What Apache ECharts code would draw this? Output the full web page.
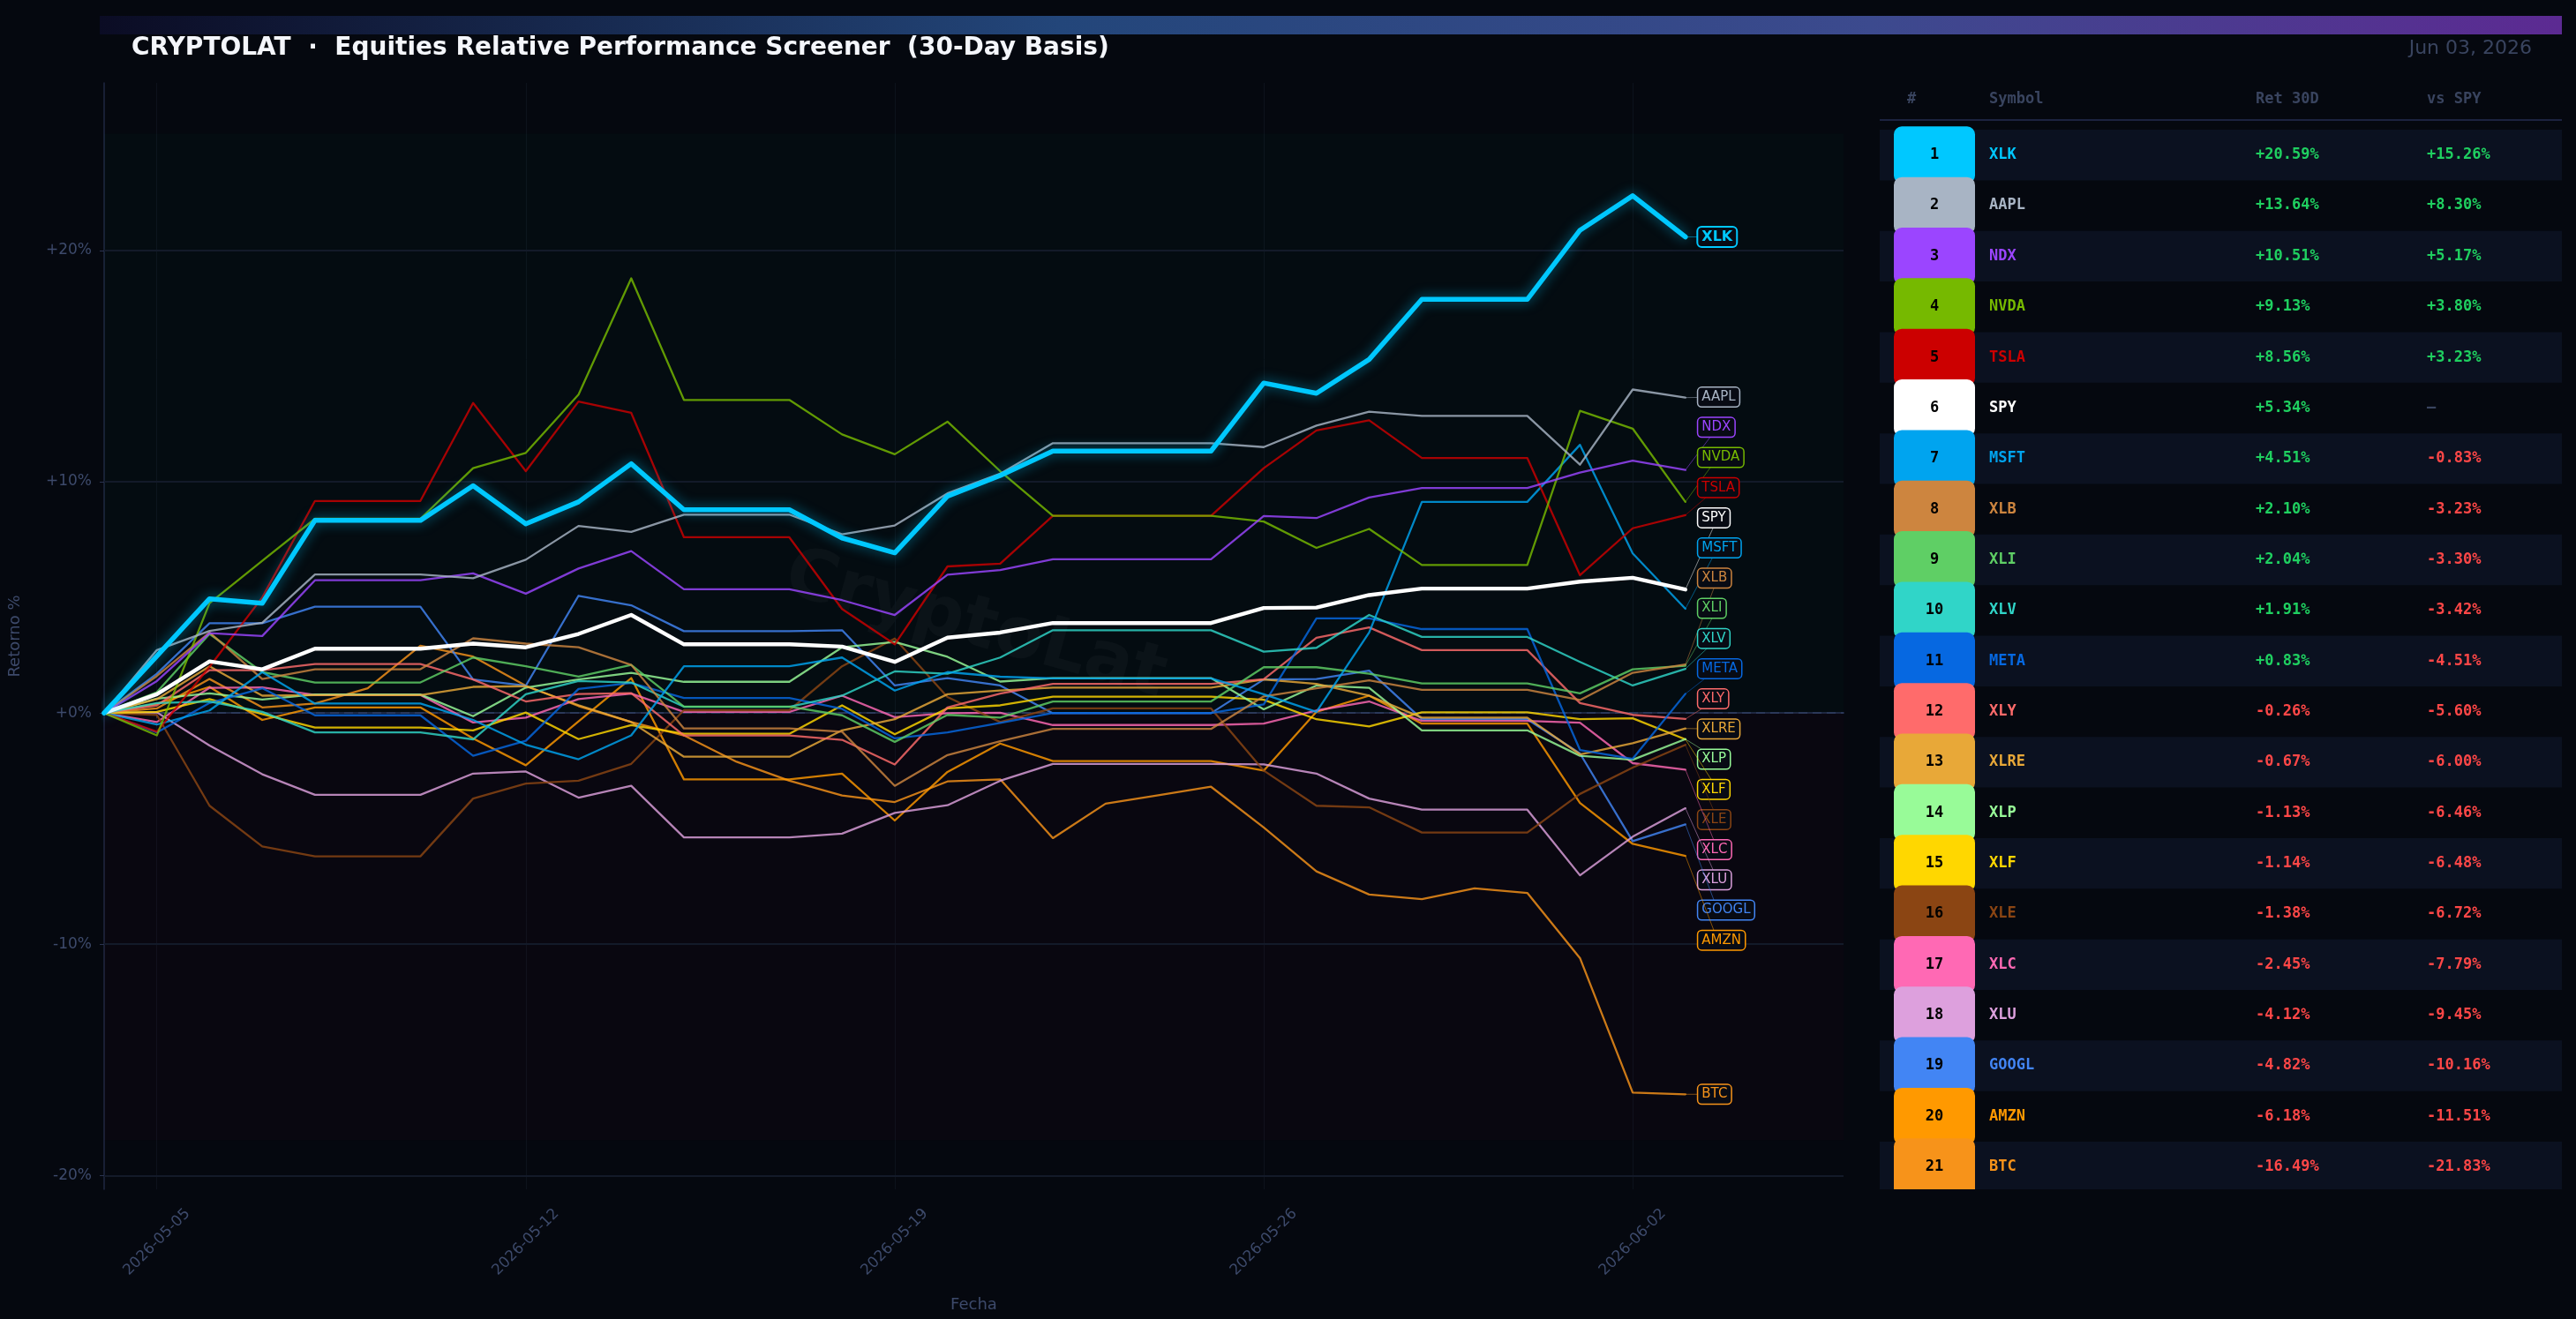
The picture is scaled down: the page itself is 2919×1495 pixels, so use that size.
<!DOCTYPE html>
<html><head><meta charset="utf-8">
<script src="https://cdn.jsdelivr.net/npm/echarts@6/dist/echarts.min.js"></script>
<style>html,body{margin:0;padding:0;background:#05080f;}#c{width:2919px;height:1495px;}</style>
</head><body><div id="c"></div>
<script>
// ---------- DATA ----------
const axisDates = ['2026-05-04','2026-05-05','2026-05-06','2026-05-07','2026-05-08','2026-05-09','2026-05-10','2026-05-11','2026-05-12','2026-05-13','2026-05-14','2026-05-15','2026-05-16','2026-05-17','2026-05-18','2026-05-19','2026-05-20','2026-05-21','2026-05-22','2026-05-23','2026-05-24','2026-05-25','2026-05-26','2026-05-27','2026-05-28','2026-05-29','2026-05-30','2026-05-31','2026-06-01','2026-06-02','2026-06-03','2026-06-04','2026-06-05','2026-06-06'];
const tickDates = ['2026-05-05','2026-05-12','2026-05-19','2026-05-26','2026-06-02'];
const yTicks = [-20, -10, 0, 10, 20];

const symbols = ['XLK','AAPL','NDX','NVDA','TSLA','SPY','MSFT','XLB','XLI','XLV','META','XLY','XLRE','XLP','XLF','XLE','XLC','XLU','GOOGL','AMZN','BTC'];
const colors  = ['#00c8ff','#a8b4c4','#9b45ff','#76b900','#cc0000','#ffffff','#00a4ef','#cd853f','#5fcf65','#30d5c8','#0668e1','#ff6b6b','#e8a838','#98fb98','#ffd700','#8b4513','#ff69b4','#dda0dd','#4285f4','#ff9900','#f7931a'];
const ret30   = [20.59, 13.64, 10.51, 9.13, 8.56, 5.34, 4.51, 2.10, 2.04, 1.91, 0.83, -0.26, -0.67, -1.13, -1.14, -1.38, -2.45, -4.12, -4.82, -6.18, -16.49];
const vsSpy   = [15.26, 8.30, 5.17, 3.80, 3.23, null, -0.83, -3.23, -3.30, -3.42, -4.51, -5.60, -6.00, -6.46, -6.48, -6.72, -7.79, -9.45, -10.16, -11.51, -21.83];

const XLK  = [0, 2.46, 4.94, 4.75, 8.33, 8.33, 8.33, 9.83, 8.18, 9.13, 10.78, 8.79, 8.79, 8.79, 7.57, 6.93, 9.38, 10.27, 11.33, 11.33, 11.33, 11.33, 14.27, 13.83, 15.29, 17.89, 17.89, 17.89, 20.88, 22.37, 20.59];
const AAPL = [0, 2.72, 3.55, 3.9, 5.99, 5.99, 5.99, 5.83, 6.63, 8.09, 7.83, 8.58, 8.58, 8.58, 7.73, 8.11, 9.5, 10.35, 11.67, 11.67, 11.67, 11.67, 11.5, 12.43, 13.03, 12.85, 12.85, 12.85, 10.74, 13.99, 13.64];
const NDX  = [0, 1.38, 3.45, 3.33, 5.74, 5.74, 5.74, 6.04, 5.16, 6.25, 7.0, 5.35, 5.35, 5.35, 4.88, 4.24, 5.98, 6.18, 6.65, 6.65, 6.65, 6.65, 8.52, 8.43, 9.32, 9.73, 9.73, 9.73, 10.4, 10.91, 10.51];
const NVDA = [0, -0.97, 4.75, 6.58, 8.4, 8.4, 8.4, 10.59, 11.25, 13.77, 18.8, 13.54, 13.54, 13.54, 12.05, 11.19, 12.6, 10.46, 8.53, 8.53, 8.53, 8.53, 8.28, 7.14, 7.96, 6.4, 6.4, 6.4, 13.07, 12.3, 9.13];
const TSLA = [0, -0.81, 2.0, 5.0, 9.17, 9.17, 9.17, 13.41, 10.46, 13.47, 12.98, 7.6, 7.6, 7.6, 4.5, 2.97, 6.34, 6.46, 8.53, 8.53, 8.53, 8.53, 10.59, 12.22, 12.66, 11.03, 11.03, 11.03, 5.96, 7.99, 8.56];
const SPY  = [0, 0.81, 2.23, 1.89, 2.78, 2.78, 2.78, 3.0, 2.84, 3.42, 4.24, 2.97, 2.97, 2.97, 2.87, 2.21, 3.26, 3.48, 3.89, 3.89, 3.89, 3.89, 4.54, 4.56, 5.1, 5.38, 5.38, 5.38, 5.68, 5.85, 5.34];
const MSFT = [0, -0.5, 0.11, 1.77, 0.41, 0.41, 0.41, -0.3, -1.37, -2.0, -0.97, 2.02, 2.02, 2.02, 2.4, 0.97, 1.77, 1.57, 1.5, 1.5, 1.5, 1.5, 0.81, 0.05, 3.48, 9.13, 9.13, 9.13, 11.6, 6.9, 4.51];
const XLB  = [0, 1.6, 3.48, 1.47, 1.89, 1.89, 1.89, 3.23, 3.0, 2.84, 2.08, -0.67, -0.67, -0.67, -0.81, -3.15, -1.82, -1.22, -0.69, -0.69, -0.69, -0.69, 0.72, 1.07, 1.41, 1.0, 1.0, 1.0, 0.56, 1.74, 2.10];
const XLI  = [0, 0.9, 3.42, 1.77, 1.32, 1.32, 1.32, 2.4, 2.02, 1.57, 2.08, 0.28, 0.28, 0.28, -0.1, -1.25, -0.08, -0.2, 0.5, 0.5, 0.5, 0.5, 1.98, 1.98, 1.7, 1.28, 1.28, 1.28, 0.85, 1.89, 2.04];
const XLV  = [0, 0.43, 0.5, 0.05, -0.84, -0.84, -0.84, -1.14, 0.81, 1.38, 1.32, 0.27, 0.27, 0.27, 0.75, 1.8, 1.7, 2.4, 3.58, 3.58, 3.58, 3.58, 2.65, 2.82, 4.24, 3.29, 3.29, 3.29, 2.21, 1.19, 1.91];
const META = [0, -0.84, 0.43, 1.07, -0.1, -0.1, -0.1, -1.85, -1.2, 1.04, 1.3, 0.65, 0.65, 0.65, 0.18, -1.1, -0.84, -0.43, 0.0, 0.0, 0.0, 0.0, 0.37, 4.09, 4.09, 3.63, 3.63, 3.63, -1.6, -1.98, 0.83];
const XLY  = [0, 0.33, 1.85, 1.85, 2.12, 2.12, 2.12, 1.45, 0.5, 0.82, 0.86, -0.97, -0.97, -0.97, -1.16, -2.23, 0.24, 0.84, 1.26, 1.26, 1.26, 1.26, 1.46, 3.25, 3.7, 2.72, 2.72, 2.72, 0.43, -0.08, -0.26];
const XLRE = [0, 0.6, 2.02, 0.75, 0.77, 0.77, 0.77, 1.13, 1.16, 0.34, -0.39, -1.89, -1.89, -1.89, -0.75, -0.27, 0.81, 0.97, 1.1, 1.1, 1.1, 1.1, 1.45, 1.26, 0.75, -0.2, -0.2, -0.2, -1.79, -1.31, -0.67];
const XLP  = [0, 0.62, 0.85, 0.58, 0.8, 0.8, 0.8, -0.14, 1.1, 1.45, 1.74, 1.35, 1.35, 1.35, 2.84, 3.07, 2.43, 1.36, 1.51, 1.51, 1.51, 1.51, 0.16, 1.19, 1.09, -0.75, -0.75, -0.75, -1.85, -2.02, -1.13];
const XLF  = [0, 0.05, 0.6, -0.05, -0.63, -0.63, -0.63, -0.75, 0.02, -1.13, -0.52, -0.9, -0.9, -0.9, 0.33, -0.92, 0.2, 0.33, 0.71, 0.71, 0.71, 0.71, 0.57, -0.27, -0.58, 0.03, 0.03, 0.03, -0.27, -0.23, -1.14];
const XLE  = [0, -0.08, -4.01, -5.77, -6.2, -6.2, -6.2, -3.7, -3.05, -2.93, -2.2, 0.12, 0.12, 0.12, 2.02, 3.22, 0.69, -0.39, 0.2, 0.2, 0.2, 0.2, -2.49, -4.01, -4.08, -5.17, -5.17, -5.17, -3.5, -2.36, -1.38];
const XLC  = [0, -0.39, 1.09, 1.11, 0.78, 0.78, 0.78, -0.41, -0.2, 0.6, 0.84, 0.05, 0.05, 0.05, 0.75, -0.18, -0.01, 0.01, -0.52, -0.52, -0.52, -0.52, -0.46, 0.11, 0.5, -0.34, -0.34, -0.34, -0.42, -2.17, -2.45];
const XLU  = [0, 0.03, -1.41, -2.65, -3.54, -3.54, -3.54, -2.62, -2.53, -3.66, -3.15, -5.38, -5.38, -5.38, -5.22, -4.32, -3.99, -2.93, -2.2, -2.2, -2.2, -2.2, -2.22, -2.62, -3.7, -4.18, -4.18, -4.18, -7.02, -5.35, -4.12];
const GOOGL= [0, 1.7, 3.88, 3.88, 4.6, 4.6, 4.6, 1.45, 1.18, 5.07, 4.66, 3.54, 3.54, 3.54, 3.58, 1.19, 1.51, 1.19, -0.01, -0.01, -0.01, -0.01, 1.45, 1.47, 1.83, -0.27, -0.27, -0.27, -1.75, -5.54, -4.82];
const AMZN = [0, 0.4, 1.13, -0.3, 0.24, 0.24, 0.24, -1.1, -2.26, -0.36, 1.51, -2.87, -2.87, -2.87, -2.62, -4.65, -2.55, -1.32, -2.08, -2.08, -2.08, -2.08, -2.49, 0.05, 0.75, -0.46, -0.46, -0.46, -3.89, -5.66, -6.18];
const BTC  = [0, 0.2, 1.47, 0.24, 0.41, 1.07, 2.91, 2.44, 1.18, 0.3, -0.39, -0.97, -2.11, -2.93, -3.57, -3.85, -2.96, -2.87, -5.41, -3.92, -3.56, -3.19, -4.95, -6.85, -7.85, -8.05, -7.58, -7.78, -10.6, -16.42, -16.49];

const seriesValues = {XLK, AAPL, NDX, NVDA, TSLA, SPY, MSFT, XLB, XLI, XLV, META, XLY, XLRE, XLP, XLF, XLE, XLC, XLU, GOOGL, AMZN, BTC};

// ---------- STYLE ----------
const AXIS_TXT = '#3d4a6b';
const UI_FONT = '"DejaVu Sans", Verdana, sans-serif';
const MONO = '"DejaVu Sans Mono", monospace';
const labelGap = 1.305;   // minimum spacing (in %) between end labels

// spread end labels: merge overlapping clusters, each centred at the mean of its members
function spreadLabels(vals, gap) {
  const order = vals.map((v, i) => i).sort((a, b) => vals[b] - vals[a]);
  let clusters = order.map(i => ({ members: [i], center: vals[i] }));
  let changed = true;
  while (changed) {
    changed = false;
    for (let k = 0; k < clusters.length - 1; k++) {
      const a = clusters[k], b = clusters[k + 1];
      const aLow = a.center - (a.members.length - 1) * gap / 2;
      const bHigh = b.center + (b.members.length - 1) * gap / 2;
      if (aLow - bHigh < gap - 1e-9) {
        const members = a.members.concat(b.members);
        const center = members.reduce((s, i) => s + vals[i], 0) / members.length;
        clusters.splice(k, 2, { members, center });
        changed = true;
        break;
      }
    }
  }
  const out = [];
  clusters.forEach(c => c.members.forEach((i, j) => {
    out[i] = c.center + ((c.members.length - 1) / 2 - j) * gap;
  }));
  return out;
}
const labelPos = spreadLabels(ret30, labelGap);

const allVals = [].concat(...Object.values(seriesValues));
const posTop = Math.max(...allVals) * 1.12;
const negBottom = Math.min(...allVals) * 1.12;

// ---------- SERIES ----------
const drawOrder = [];
for (let i = symbols.length - 1; i >= 0; i--) {
  if (symbols[i] !== 'SPY' && symbols[i] !== 'XLK') drawOrder.push(i);
}
drawOrder.push(symbols.indexOf('SPY'));
drawOrder.push(symbols.indexOf('XLK'));

const series = drawOrder.map((i, n) => {
  const s = symbols[i];
  const isTop = s === 'XLK', isSpy = s === 'SPY';
  const obj = {
    name: s, type: 'line', data: seriesValues[s],
    showSymbol: false, symbol: 'none', silent: true,
    z: isTop ? 4 : (isSpy ? 3 : 2),
    lineStyle: {
      color: colors[i],
      width: isTop ? 5.5 : (isSpy ? 4.4 : 2.3),
      opacity: (isTop || isSpy) ? 1 : 0.82,
      shadowBlur: isTop ? 14 : 0,
      shadowColor: isTop ? 'rgba(0,200,255,0.55)' : 'transparent',
      cap: 'round', join: 'round'
    },
    emphasis: { disabled: true }
  };
  if (n === 0) {
    obj.markArea = {
      silent: true,
      data: [
        [{ yAxis: 0, itemStyle: { color: 'rgba(0,200,120,0.028)' } }, { yAxis: posTop }],
        [{ yAxis: negBottom, itemStyle: { color: 'rgba(200,0,60,0.028)' } }, { yAxis: 0 }]
      ]
    };
    obj.markLine = {
      silent: true, symbol: 'none', z: 1, animation: false,
      label: { show: false },
      data: yTicks.filter(v => v !== 0).map(v => ({ yAxis: v, lineStyle: { color: '#131a29', width: 2, type: 'solid' } }))
        .concat([{ yAxis: 0, lineStyle: { color: '#2b3859', width: 2, type: [10, 6] } }])
    };
  }
  return obj;
});

// end labels + leader lines
series.push({
  type: 'custom', name: 'labels', silent: true, z: 10,
  coordinateSystem: 'cartesian2d',
  encode: { x: 0, y: 1 },
  data: symbols.map((s, i) => [seriesValues[s].length - 1, ret30[i], labelPos[i]]),
  renderItem: (params, api) => {
    const i = params.dataIndex;
    const p0 = api.coord([api.value(0), api.value(1)]);
    const p1 = api.coord([api.value(0), api.value(2)]);
    const lx = p1[0] + 14.5;
    const isTop = i === 0;
    return {
      type: 'group',
      children: [
        { type: 'line', shape: { x1: p0[0], y1: p0[1], x2: lx + 22, y2: p1[1] },
          style: { stroke: colors[i], lineWidth: 1, opacity: 0.5 } },
        { type: 'text', x: lx, y: p1[1],
          style: {
            text: symbols[i], fill: colors[i],
            font: (isTop ? 'bold 16px ' : '15px ') + UI_FONT,
            align: 'left', verticalAlign: 'middle', textAlign: 'left', textVerticalAlign: 'middle',
            backgroundColor: '#080b14', borderColor: colors[i], borderWidth: isTop ? 2 : 1.5,
            borderRadius: 4, padding: [2, 4, 1, 4], lineHeight: 18
          } }
      ]
    };
  }
});

// ---------- GRAPHIC (header, watermark, table) ----------
const graphic = [];
graphic.push({
  type: 'rect', z: 5, silent: true,
  shape: { x: 113, y: 18, width: 2790, height: 21 },
  style: { fill: new echarts.graphic.LinearGradient(0, 0, 1, 0, [
    { offset: 0, color: '#0b0c24' }, { offset: 0.39, color: '#23467a' },
    { offset: 0.72, color: '#3c4a8e' }, { offset: 1, color: '#5c2a92' }]) }
});
graphic.push({ type: 'text', x: 149, y: 55, z: 5, silent: true,
  style: { text: 'CRYPTOLAT  ·  Equities Relative Performance Screener  (30-Day Basis)', fill: '#f4f6fb',
    font: 'bold 28px ' + UI_FONT, align: 'left', verticalAlign: 'middle', textAlign: 'left', textVerticalAlign: 'middle' } });
graphic.push({ type: 'text', x: 2869, y: 55, z: 5, silent: true,
  style: { text: 'Jun 03, 2026', fill: '#39445f', font: '22px ' + UI_FONT,
    align: 'right', verticalAlign: 'middle', textAlign: 'right', textVerticalAlign: 'middle' } });
// watermark
graphic.push({ type: 'text', x: 1105, y: 710, z: 0, silent: true, rotation: -15.5 * Math.PI / 180,
  style: { text: 'CryptoLat', fill: 'rgba(255,255,255,0.032)', font: 'bold 80px ' + UI_FONT,
    align: 'center', verticalAlign: 'middle', textAlign: 'center', textVerticalAlign: 'middle' } });

// table
const TBL = { left: 2130, right: 2903, headY: 113, lineY: 136, row0: 175.7, rowH: 57.35, clipY: 1348,
  colNum: 2192, colSym: 2254, colRet: 2556, colVs: 2750, badgeX: 2146, badgeW: 92, badgeH: 64.8 };
const headStyle = (t, x, align) => ({ type: 'text', x, y: TBL.headY, z: 5, silent: true,
  style: { text: t, fill: '#39445f', font: 'bold 17px ' + MONO, align, verticalAlign: 'middle', textAlign: align, textVerticalAlign: 'middle' } });
graphic.push(headStyle('#', 2166, 'center'));
graphic.push(headStyle('Symbol', TBL.colSym, 'left'));
graphic.push(headStyle('Ret 30D', TBL.colRet, 'left'));
graphic.push(headStyle('vs SPY', TBL.colVs, 'left'));
graphic.push({ type: 'rect', z: 5, silent: true, shape: { x: TBL.left, y: TBL.lineY - 1, width: TBL.right - TBL.left, height: 2 }, style: { fill: '#1c2340' } });

const fmt = v => (v >= 0 ? '+' : '') + v.toFixed(2) + '%';
symbols.forEach((s, i) => {
  const cy = TBL.row0 + i * TBL.rowH;
  if (i % 2 === 0) {
    const top = cy - TBL.rowH / 2;
    const h = Math.min(TBL.rowH, TBL.clipY - top);
    graphic.push({ type: 'rect', z: 4, silent: true, shape: { x: TBL.left, y: top, width: TBL.right - TBL.left, height: h }, style: { fill: '#0b1120' } });
  }
  const bTop = cy - TBL.badgeH / 2;
  const bH = Math.min(TBL.badgeH, TBL.clipY - bTop);
  const clipped = bH < TBL.badgeH;
  graphic.push({ type: 'rect', z: 5, silent: true,
    shape: { x: TBL.badgeX, y: bTop, width: TBL.badgeW, height: bH, r: clipped ? [9, 9, 0, 0] : 9 },
    style: { fill: colors[i] } });
  graphic.push({ type: 'text', x: TBL.colNum, y: cy, z: 6, silent: true,
    style: { text: String(i + 1), fill: '#000000', font: 'bold 17px ' + MONO, align: 'center', verticalAlign: 'middle', textAlign: 'center', textVerticalAlign: 'middle' } });
  graphic.push({ type: 'text', x: TBL.colSym, y: cy, z: 6, silent: true,
    style: { text: s, fill: colors[i], font: 'bold 17px ' + MONO, align: 'left', verticalAlign: 'middle', textAlign: 'left', textVerticalAlign: 'middle' } });
  graphic.push({ type: 'text', x: TBL.colRet, y: cy, z: 6, silent: true,
    style: { text: fmt(ret30[i]), fill: ret30[i] >= 0 ? '#1fd060' : '#ff4747', font: 'bold 17px ' + MONO, align: 'left', verticalAlign: 'middle', textAlign: 'left', textVerticalAlign: 'middle' } });
  const v = vsSpy[i];
  graphic.push({ type: 'text', x: TBL.colVs, y: cy, z: 6, silent: true,
    style: { text: v == null ? '—' : fmt(v), fill: v == null ? '#39445f' : (v >= 0 ? '#1fd060' : '#ff4747'), font: 'bold 17px ' + MONO, align: 'left', verticalAlign: 'middle', textAlign: 'left', textVerticalAlign: 'middle' } });
});

// ---------- CHART ----------
const chart = echarts.init(document.getElementById('c'), null, { renderer: 'canvas', width: 2919, height: 1495 });
const isTick = (i, v) => tickDates.indexOf(v) >= 0;
chart.setOption({
  backgroundColor: '#05080f',
  animation: false,
  grid: { left: 114, right: 830, top: 94, bottom: 147, containLabel: false },
  xAxis: {
    type: 'category', data: axisDates, boundaryGap: false,
    name: 'Fecha', nameLocation: 'middle', nameGap: 122,
    nameTextStyle: { color: AXIS_TXT, fontSize: 18, fontFamily: UI_FONT },
    axisLine: { show: true, lineStyle: { color: '#1f2742', width: 2 } },
    axisTick: { show: true, interval: isTick, length: 6, lineStyle: { color: '#2a3350', width: 1 } },
    axisLabel: { interval: isTick, rotate: 45, align: 'center', verticalAlign: 'middle', margin: 60,
      color: AXIS_TXT, fontSize: 17, fontFamily: UI_FONT },
    splitLine: { show: true, interval: isTick, lineStyle: { color: '#0d121c', width: 1 } }
  },
  yAxis: {
    type: 'value', min: -20.6, max: 27.25,
    name: 'Retorno %', nameLocation: 'middle', nameGap: 92,
    nameTextStyle: { color: AXIS_TXT, fontSize: 18, fontFamily: UI_FONT },
    axisLine: { show: true, lineStyle: { color: '#1f2742', width: 1.5 } },
    axisTick: { show: true, length: 5, customValues: yTicks, lineStyle: { color: '#2a3350' } },
    axisLabel: { customValues: yTicks, margin: 14,
      color: AXIS_TXT, fontSize: 17, fontFamily: UI_FONT,
      formatter: v => (v >= 0 ? '+' : '') + v + '%' },
    splitLine: { show: false }
  },
  graphic: graphic,
  series: series
});
</script>
</body></html>
